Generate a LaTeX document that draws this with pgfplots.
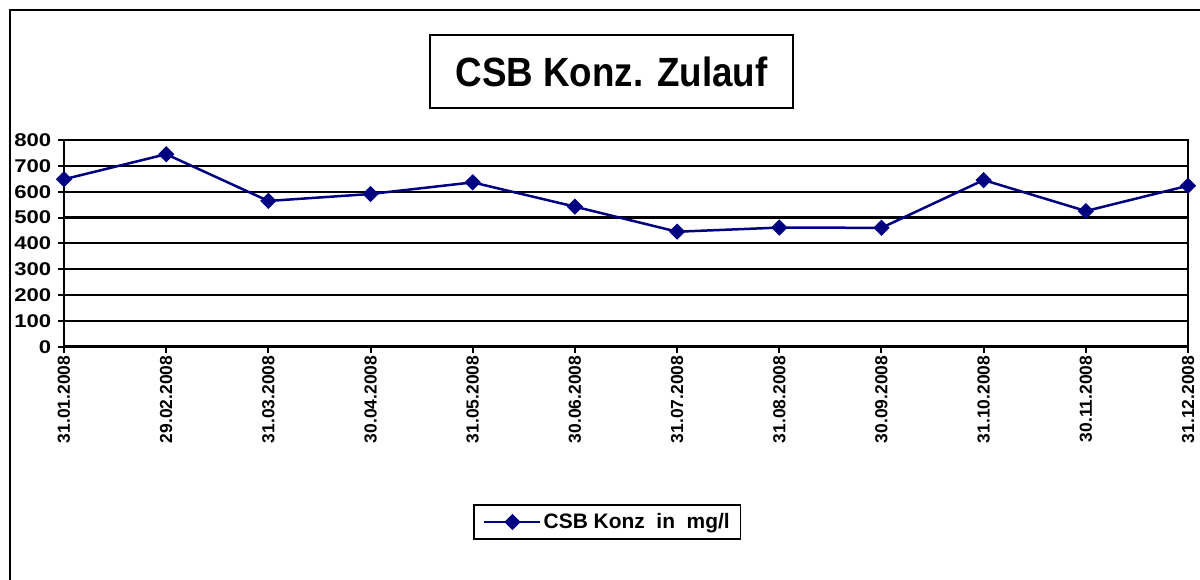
\documentclass[border=0pt]{standalone}
\usepackage{pgfplots}
\pgfplotsset{compat=1.18}
\usepackage{fontspec}
\setmainfont{Liberation Sans}
\definecolor{navy}{RGB}{0,0,128}
\begin{document}
\begin{tikzpicture}[x=1bp,y=1bp]
\useasboundingbox (0,0) rectangle (1200,580);
\clip (0,0) rectangle (1200,580);
\draw[line width=2bp] (10,570) rectangle (1230,-30);
\node[draw, line width=1.5bp, minimum width=363bp, minimum height=73bp, inner sep=0pt] at (611.5,508.5)
  {\fontsize{41}{41}\selectfont\bfseries\scalebox{0.9}[1]{CSB Konz. Zulauf}};
\begin{axis}[
  at={(64bp,233.3bp)}, anchor=south west, scale only axis,
  width=1124bp, height=206.7bp,
  xmin=0, xmax=11, ymin=0, ymax=800,
  ytick={0,100,...,800},
  xtick={0,...,11},
  xticklabels={31.01.2008,29.02.2008,31.03.2008,30.04.2008,31.05.2008,30.06.2008,31.07.2008,31.08.2008,30.09.2008,31.10.2008,30.11.2008,31.12.2008},
  xtick pos=left, ytick pos=left,
  tick align=outside, major tick length=6bp,
  tick style={black, line width=2bp},
  axis line style={black, line width=2.5bp},
  ymajorgrids, major grid style={black, line width=2.2bp},
  /pgf/number format/assume math mode=true,
  yticklabel style={font=\fontsize{18.5}{18.5}\selectfont\bfseries, xscale=1.2, anchor=east, inner sep=5.5bp},
  xticklabel style={font=\fontsize{17.5}{17.5}\selectfont\bfseries, rotate=90, anchor=east, inner sep=3bp},
  clip=false,
  legend style={at={(axis description cs:0.4835,-0.848)}, anchor=center, draw=black, line width=1.5bp,
    font=\fontsize{21}{21}\selectfont\bfseries, inner xsep=9bp, inner ysep=6.5bp},
  legend image code/.code={\draw[mark repeat=2,mark phase=2,#1] plot coordinates {(0bp,0bp) (28bp,0bp) (56bp,0bp)};},
]
\addplot[navy, line width=2.5bp, mark=square*, mark size=4.5bp, mark options={rotate=45, solid, fill=navy}]
  coordinates {(0,648) (1,745) (2,564) (3,591) (4,636) (5,542) (6,445) (7,461) (8,460) (9,645) (10,525) (11,623)};
\addlegendentry{CSB Konz\ \ in\ \ mg/l}
\end{axis}
\end{tikzpicture}
\end{document}
